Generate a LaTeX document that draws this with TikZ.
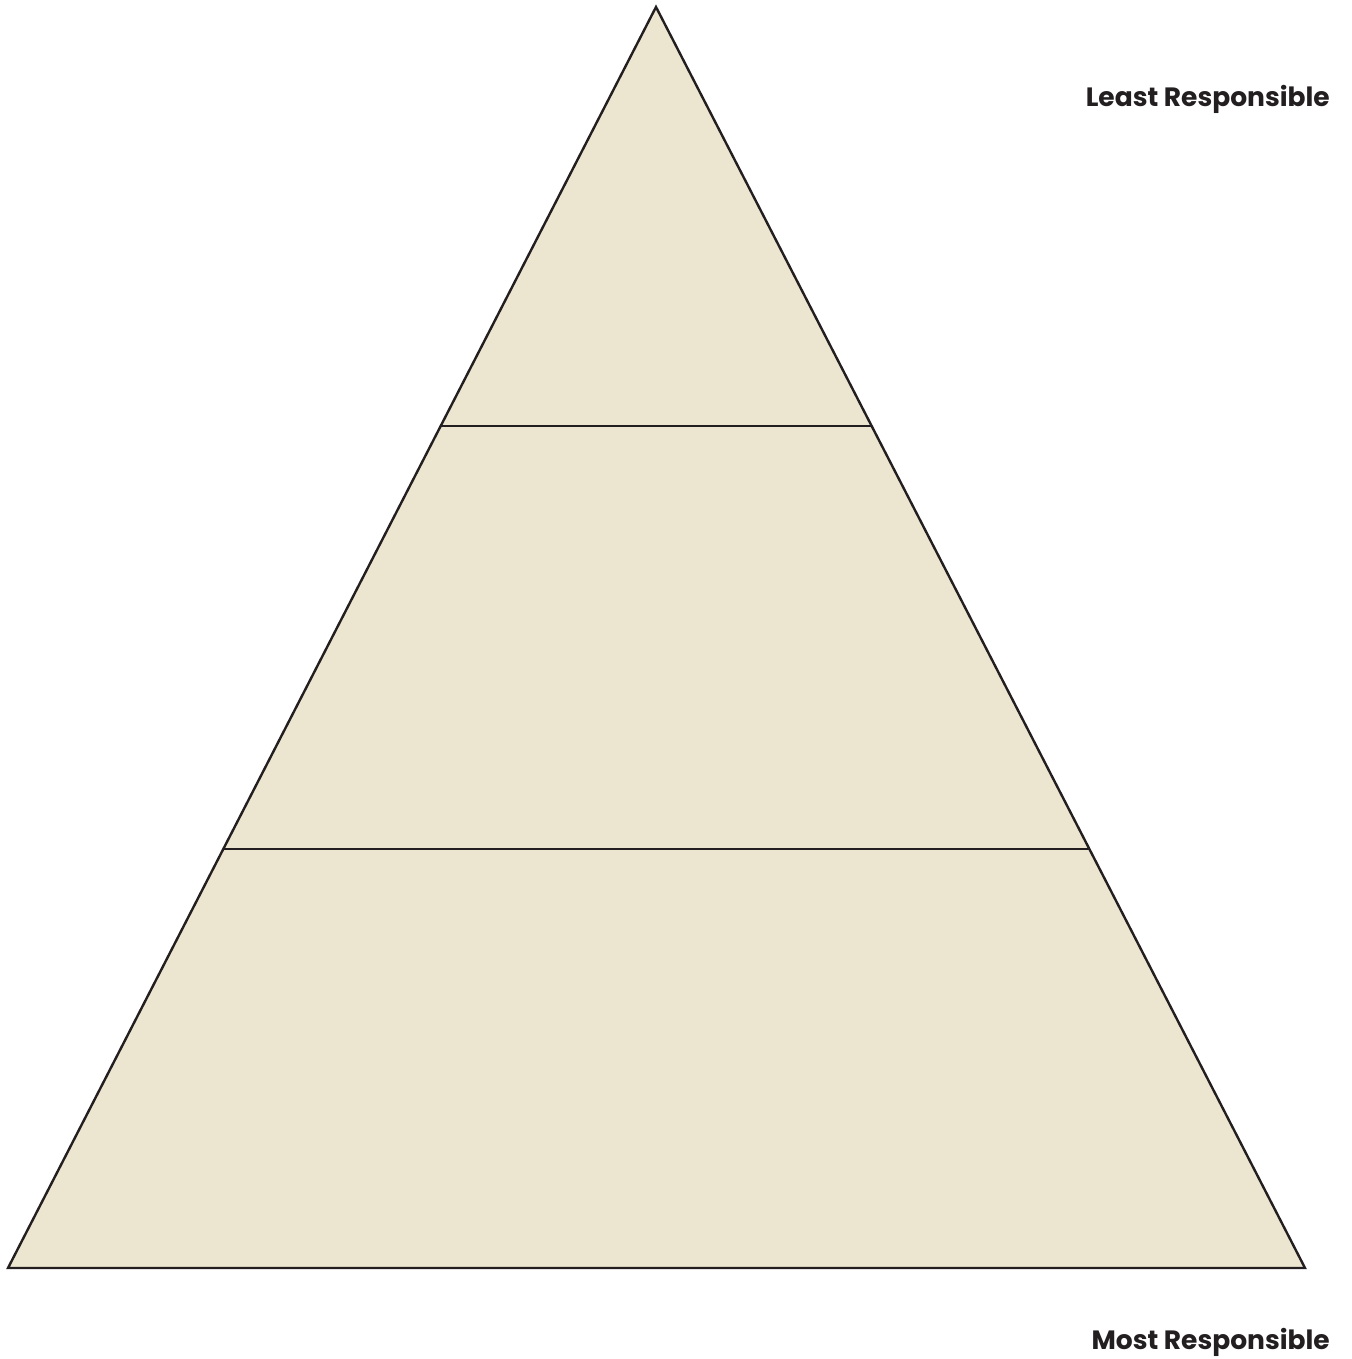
\documentclass[tikz,border=0pt]{standalone}
\usepackage{fontspec}
\setmainfont{Poppins}
\usepackage{tikz}
\usetikzlibrary{calc}
\definecolor{pyrfill}{HTML}{ECE5D0}
\definecolor{pyrline}{HTML}{231F20}

\begin{document}
\begin{tikzpicture}[x=1pt,y=-1pt,
    tierline/.style={pyrline,line width=2.4pt},
    endlabel/.style={anchor=base east,inner sep=0pt,text=pyrline,
      font=\fontsize{26.5}{30}\selectfont\bfseries}]
  \useasboundingbox (0,0) rectangle (1351,1359);
  \coordinate (apex) at (656,7);
  \coordinate (baseL) at (8,1268);
  \coordinate (baseR) at (1305,1268);
  % tier boundaries
  \coordinate (midL) at ($(apex)!0.3323!(baseL)$);
  \coordinate (midR) at ($(apex)!0.3323!(baseR)$);
  \coordinate (lowL) at ($(apex)!0.6677!(baseL)$);
  \coordinate (lowR) at ($(apex)!0.6677!(baseR)$);
  \draw[tierline,fill=pyrfill,line join=miter] (apex) -- (baseR) -- (baseL) -- cycle;
  \draw[tierline] (midL) -- (midR);
  \draw[tierline] (lowL) -- (lowR);
  \node[endlabel] (least) at (1330,107) {Least Responsible};
  \node[endlabel] (most) at (1330,1349) {Most Responsible};
\end{tikzpicture}
\end{document}
